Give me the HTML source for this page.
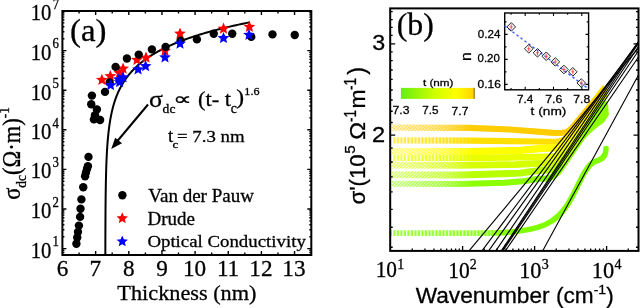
<!DOCTYPE html>
<html><head><meta charset="utf-8"><style>html,body{margin:0;padding:0;background:#fff;width:640px;height:308px;overflow:hidden}svg{display:block;will-change:transform}</style></head>
<body><svg width="640" height="308" viewBox="0 0 640 308"><path d="M79.08,255.0v-2.5 M79.08,11.0v2.5 M95.65,255.0v-4 M95.65,11.0v4 M112.22,255.0v-2.5 M112.22,11.0v2.5 M128.80,255.0v-4 M128.80,11.0v4 M145.38,255.0v-2.5 M145.38,11.0v2.5 M161.95,255.0v-4 M161.95,11.0v4 M178.52,255.0v-2.5 M178.52,11.0v2.5 M195.10,255.0v-4 M195.10,11.0v4 M211.67,255.0v-2.5 M211.67,11.0v2.5 M228.25,255.0v-4 M228.25,11.0v4 M244.82,255.0v-2.5 M244.82,11.0v2.5 M261.40,255.0v-4 M261.40,11.0v4 M277.98,255.0v-2.5 M277.98,11.0v2.5 M294.55,255.0v-4 M294.55,11.0v4 M62.4,252.44h2 M311.3,252.44h-2 M62.4,250.41h2 M311.3,250.41h-2 M62.4,248.60h4 M311.3,248.60h-4 M62.4,236.68h2 M311.3,236.68h-2 M62.4,229.71h2 M311.3,229.71h-2 M62.4,224.76h2 M311.3,224.76h-2 M62.4,220.92h2 M311.3,220.92h-2 M62.4,217.79h2 M311.3,217.79h-2 M62.4,215.13h2 M311.3,215.13h-2 M62.4,212.84h2 M311.3,212.84h-2 M62.4,210.81h2 M311.3,210.81h-2 M62.4,209.00h4 M311.3,209.00h-4 M62.4,197.08h2 M311.3,197.08h-2 M62.4,190.11h2 M311.3,190.11h-2 M62.4,185.16h2 M311.3,185.16h-2 M62.4,181.32h2 M311.3,181.32h-2 M62.4,178.19h2 M311.3,178.19h-2 M62.4,175.53h2 M311.3,175.53h-2 M62.4,173.24h2 M311.3,173.24h-2 M62.4,171.21h2 M311.3,171.21h-2 M62.4,169.40h4 M311.3,169.40h-4 M62.4,157.48h2 M311.3,157.48h-2 M62.4,150.51h2 M311.3,150.51h-2 M62.4,145.56h2 M311.3,145.56h-2 M62.4,141.72h2 M311.3,141.72h-2 M62.4,138.59h2 M311.3,138.59h-2 M62.4,135.93h2 M311.3,135.93h-2 M62.4,133.64h2 M311.3,133.64h-2 M62.4,131.61h2 M311.3,131.61h-2 M62.4,129.80h4 M311.3,129.80h-4 M62.4,117.88h2 M311.3,117.88h-2 M62.4,110.91h2 M311.3,110.91h-2 M62.4,105.96h2 M311.3,105.96h-2 M62.4,102.12h2 M311.3,102.12h-2 M62.4,98.99h2 M311.3,98.99h-2 M62.4,96.33h2 M311.3,96.33h-2 M62.4,94.04h2 M311.3,94.04h-2 M62.4,92.01h2 M311.3,92.01h-2 M62.4,90.20h4 M311.3,90.20h-4 M62.4,78.28h2 M311.3,78.28h-2 M62.4,71.31h2 M311.3,71.31h-2 M62.4,66.36h2 M311.3,66.36h-2 M62.4,62.52h2 M311.3,62.52h-2 M62.4,59.39h2 M311.3,59.39h-2 M62.4,56.73h2 M311.3,56.73h-2 M62.4,54.44h2 M311.3,54.44h-2 M62.4,52.41h2 M311.3,52.41h-2 M62.4,50.60h4 M311.3,50.60h-4 M62.4,38.68h2 M311.3,38.68h-2 M62.4,31.71h2 M311.3,31.71h-2 M62.4,26.76h2 M311.3,26.76h-2 M62.4,22.92h2 M311.3,22.92h-2 M62.4,19.79h2 M311.3,19.79h-2 M62.4,17.13h2 M311.3,17.13h-2 M62.4,14.84h2 M311.3,14.84h-2 M62.4,12.81h2 M311.3,12.81h-2" stroke="#000" stroke-width="1.4" fill="none"/>
<rect x="62.4" y="11.0" width="248.9" height="244.0" fill="none" stroke="#000" stroke-width="2"/>
<polyline points="249.81,22.30 246.93,22.88 244.10,23.47 241.33,24.05 238.62,24.63 235.96,25.22 233.35,25.80 230.79,26.38 228.29,26.97 225.83,27.55 223.43,28.13 221.07,28.72 218.76,29.30 216.49,29.88 214.27,30.46 212.10,31.05 209.97,31.63 207.88,32.21 205.83,32.80 203.82,33.38 201.86,33.96 199.93,34.55 198.04,35.13 196.19,35.71 194.37,36.30 192.60,36.88 190.85,37.46 189.14,38.05 187.47,38.63 185.83,39.21 184.22,39.80 182.65,40.38 181.10,40.96 179.59,41.55 178.11,42.13 176.65,42.71 175.23,43.30 173.83,43.88 172.47,44.46 171.13,45.05 169.81,45.63 168.52,46.21 167.26,46.79 166.02,47.38 164.81,47.96 163.62,48.54 162.46,49.13 161.32,49.71 160.20,50.29 159.11,50.88 158.03,51.46 156.98,52.04 155.95,52.63 154.94,53.21 153.95,53.79 152.97,54.38 152.02,54.96 151.09,55.54 150.18,56.13 149.28,56.71 148.40,57.29 147.54,57.88 146.70,58.46 145.87,59.04 145.06,59.63 144.27,60.21 143.49,60.79 142.73,61.37 141.98,61.96 141.25,62.54 140.53,63.12 139.83,63.71 139.14,64.29 138.46,64.87 137.80,65.46 137.15,66.04 136.52,66.62 135.89,67.21 135.28,67.79 134.68,68.37 134.10,68.96 133.52,69.54 132.96,70.12 132.41,70.71 131.87,71.29 131.34,71.87 130.82,72.46 130.31,73.04 129.81,73.62 129.32,74.21 128.84,74.79 128.37,75.37 127.91,75.96 127.46,76.54 127.02,77.12 126.58,77.70 126.16,78.29 125.74,78.87 125.33,79.45 124.93,80.04 124.54,80.62 124.16,81.20 123.78,81.79 123.41,82.37 123.05,82.95 122.70,83.54 122.35,84.12 122.01,84.70 121.67,85.29 121.35,85.87 121.03,86.45 120.71,87.04 120.41,87.62 120.10,88.20 119.81,88.79 119.52,89.37 119.24,89.95 118.96,90.54 118.68,91.12 118.42,91.70 118.16,92.28 117.90,92.87 117.65,93.45 117.40,94.03 117.16,94.62 116.92,95.20 116.69,95.78 116.46,96.37 116.24,96.95 116.02,97.53 115.81,98.12 115.60,98.70 115.39,99.28 115.19,99.87 114.99,100.45 114.80,101.03 114.61,101.62 114.42,102.20 114.24,102.78 114.06,103.37 113.89,103.95 113.72,104.53 113.55,105.12 113.38,105.70 113.22,106.28 113.07,106.87 112.91,107.45 112.76,108.03 112.61,108.61 112.46,109.20 112.32,109.78 112.18,110.36 112.04,110.95 111.91,111.53 111.78,112.11 111.65,112.70 111.52,113.28 111.40,113.86 111.27,114.45 111.16,115.03 111.04,115.61 110.92,116.20 110.81,116.78 110.70,117.36 110.59,117.95 110.49,118.53 110.38,119.11 110.28,119.70 110.18,120.28 110.09,120.86 109.99,121.45 109.90,122.03 109.81,122.61 109.72,123.19 109.63,123.78 109.54,124.36 109.46,124.94 109.37,125.53 109.29,126.11 109.21,126.69 109.13,127.28 109.06,127.86 108.98,128.44 108.91,129.03 108.84,129.61 108.77,130.19 108.70,130.78 108.63,131.36 108.56,131.94 108.50,132.53 108.43,133.11 108.37,133.69 108.31,134.28 108.25,134.86 108.19,135.44 108.13,136.03 108.08,136.61 108.02,137.19 107.97,137.78 107.91,138.36 107.86,138.94 107.81,139.52 107.76,140.11 107.71,140.69 107.66,141.27 107.62,141.86 107.57,142.44 107.52,143.02 107.48,143.61 107.44,144.19 107.39,144.77 107.35,145.36 107.31,145.94 107.27,146.52 107.23,147.11 107.19,147.69 107.16,148.27 107.12,148.86 107.08,149.44 107.05,150.02 107.01,150.61 106.98,151.19 106.94,151.77 106.91,152.36 106.88,152.94 106.85,153.52 106.82,154.11 106.79,154.69 106.76,155.27 106.73,155.85 106.70,156.44 106.67,157.02 106.64,157.60 106.62,158.19 106.59,158.77 106.56,159.35 106.54,159.94 106.51,160.52 106.49,161.10 106.47,161.69 106.44,162.27 106.42,162.85 106.40,163.44 106.38,164.02 106.35,164.60 106.33,165.19 106.31,165.77 106.29,166.35 106.27,166.94 106.25,167.52 106.23,168.10 106.22,168.69 106.20,169.27 106.18,169.85 106.16,170.43 106.15,171.02 106.13,171.60 106.11,172.18 106.10,172.77 106.08,173.35 106.06,173.93 106.05,174.52 106.03,175.10 106.02,175.68 106.00,176.27 105.99,176.85 105.98,177.43 105.96,178.02 105.95,178.60 105.94,179.18 105.92,179.77 105.91,180.35 105.90,180.93 105.89,181.52 105.88,182.10 105.86,182.68 105.85,183.27 105.84,183.85 105.83,184.43 105.82,185.02 105.81,185.60 105.80,186.18 105.79,186.76 105.78,187.35 105.77,187.93 105.76,188.51 105.75,189.10 105.74,189.68 105.73,190.26 105.73,190.85 105.72,191.43 105.71,192.01 105.70,192.60 105.69,193.18 105.68,193.76 105.68,194.35 105.67,194.93 105.66,195.51 105.66,196.10 105.65,196.68 105.64,197.26 105.63,197.85 105.63,198.43 105.62,199.01 105.61,199.60 105.61,200.18 105.60,200.76 105.60,201.34 105.59,201.93 105.58,202.51 105.58,203.09 105.57,203.68 105.57,204.26 105.56,204.84 105.56,205.43 105.55,206.01 105.55,206.59 105.54,207.18 105.54,207.76 105.53,208.34 105.53,208.93 105.52,209.51 105.52,210.09 105.51,210.68 105.51,211.26 105.51,211.84 105.50,212.43 105.50,213.01 105.49,213.59 105.49,214.18 105.49,214.76 105.48,215.34 105.48,215.93 105.48,216.51 105.47,217.09 105.47,217.67 105.47,218.26 105.46,218.84 105.46,219.42 105.46,220.01 105.45,220.59 105.45,221.17 105.45,221.76 105.44,222.34 105.44,222.92 105.44,223.51 105.43,224.09 105.43,224.67 105.43,225.26 105.43,225.84 105.42,226.42 105.42,227.01 105.42,227.59 105.42,228.17 105.41,228.76 105.41,229.34 105.41,229.92 105.41,230.51 105.41,231.09 105.40,231.67 105.40,232.25 105.40,232.84 105.40,233.42 105.40,234.00 105.39,234.59 105.39,235.17 105.39,235.75 105.39,236.34 105.39,236.92 105.38,237.50 105.38,238.09 105.38,238.67 105.38,239.25 105.38,239.84 105.38,240.42 105.38,241.00 105.37,241.59 105.37,242.17 105.37,242.75 105.37,243.34 105.37,243.92 105.37,244.50 105.37,245.09 105.36,245.67 105.36,246.25 105.36,246.84 105.36,247.42 105.36,248.00 105.36,248.58 105.36,249.17 105.36,249.75 105.35,250.33 105.35,250.92 105.35,251.50 105.35,252.08 105.35,252.67 105.35,253.25 105.35,253.83 105.35,254.42 105.35,255.00" fill="none" stroke="#000" stroke-width="2"/>
<line x1="148" y1="104.5" x2="117" y2="141.5" stroke="#000" stroke-width="2"/>
<polygon points="111.2,149 115.2,137.8 122,143.2" fill="#000"/>
<polygon points="101.90,73.80 103.54,77.74 107.80,78.08 104.55,80.86 105.54,85.02 101.90,82.79 98.26,85.02 99.25,80.86 96.00,78.08 100.26,77.74" fill="#ff0000"/><polygon points="110.30,70.05 111.94,73.99 116.20,74.33 112.95,77.11 113.94,81.27 110.30,79.04 106.66,81.27 107.65,77.11 104.40,74.33 108.66,73.99" fill="#ff0000"/><polygon points="119.40,66.90 121.04,70.84 125.30,71.18 122.05,73.96 123.04,78.12 119.40,75.89 115.76,78.12 116.75,73.96 113.50,71.18 117.76,70.84" fill="#ff0000"/><polygon points="123.10,62.55 124.74,66.49 129.00,66.83 125.75,69.61 126.74,73.77 123.10,71.54 119.46,73.77 120.45,69.61 117.20,66.83 121.46,66.49" fill="#ff0000"/><polygon points="136.90,53.80 138.54,57.74 142.80,58.08 139.55,60.86 140.54,65.02 136.90,62.79 133.26,65.02 134.25,60.86 131.00,58.08 135.26,57.74" fill="#ff0000"/><polygon points="146.00,51.60 147.64,55.54 151.90,55.88 148.65,58.66 149.64,62.82 146.00,60.59 142.36,62.82 143.35,58.66 140.10,55.88 144.36,55.54" fill="#ff0000"/><polygon points="165.00,44.80 166.64,48.74 170.90,49.08 167.65,51.86 168.64,56.02 165.00,53.79 161.36,56.02 162.35,51.86 159.10,49.08 163.36,48.74" fill="#ff0000"/><polygon points="180.00,27.55 181.64,31.49 185.90,31.83 182.65,34.61 183.64,38.77 180.00,36.54 176.36,38.77 177.35,34.61 174.10,31.83 178.36,31.49" fill="#ff0000"/><polygon points="223.50,22.55 225.14,26.49 229.40,26.83 226.15,29.61 227.14,33.77 223.50,31.54 219.86,33.77 220.85,29.61 217.60,26.83 221.86,26.49" fill="#ff0000"/><polygon points="249.40,20.70 251.04,24.64 255.30,24.98 252.05,27.76 253.04,31.92 249.40,29.69 245.76,31.92 246.75,27.76 243.50,24.98 247.76,24.64" fill="#ff0000"/><circle cx="76.4" cy="243.75" r="4.2" fill="#000"/><circle cx="77.25" cy="237.5" r="4.2" fill="#000"/><circle cx="78" cy="231.9" r="4.2" fill="#000"/><circle cx="78.9" cy="225.6" r="4.2" fill="#000"/><circle cx="80.1" cy="216.9" r="4.2" fill="#000"/><circle cx="80.5" cy="208.75" r="4.2" fill="#000"/><circle cx="81.4" cy="199.4" r="4.2" fill="#000"/><circle cx="83.25" cy="187.25" r="4.2" fill="#000"/><circle cx="85.1" cy="176.25" r="4.2" fill="#000"/><circle cx="86.0" cy="172.5" r="4.2" fill="#000"/><circle cx="87.0" cy="169.0" r="4.2" fill="#000"/><circle cx="87.9" cy="166.25" r="4.2" fill="#000"/><circle cx="88.5" cy="156.9" r="4.2" fill="#000"/><circle cx="93.9" cy="119.4" r="4.2" fill="#000"/><circle cx="100.1" cy="120" r="4.2" fill="#000"/><circle cx="95" cy="115.2" r="4.2" fill="#000"/><circle cx="96.9" cy="109.4" r="4.2" fill="#000"/><circle cx="91.25" cy="104.2" r="4.2" fill="#000"/><circle cx="91.9" cy="95.6" r="4.2" fill="#000"/><circle cx="105" cy="91.9" r="4.2" fill="#000"/><circle cx="109.6" cy="82.5" r="4.2" fill="#000"/><circle cx="115.6" cy="66.9" r="4.2" fill="#000"/><circle cx="126.9" cy="58.5" r="4.2" fill="#000"/><circle cx="138.75" cy="54.6" r="4.2" fill="#000"/><circle cx="151.9" cy="49.4" r="4.2" fill="#000"/><circle cx="165.6" cy="46.9" r="4.2" fill="#000"/><circle cx="180.6" cy="40.6" r="4.2" fill="#000"/><circle cx="196.9" cy="39.4" r="4.2" fill="#000"/><circle cx="213.75" cy="33.75" r="4.2" fill="#000"/><circle cx="232.25" cy="33.75" r="4.2" fill="#000"/><circle cx="251.25" cy="36.9" r="4.2" fill="#000"/><circle cx="272.5" cy="34.4" r="4.2" fill="#000"/><circle cx="294.75" cy="35" r="4.2" fill="#000"/><polygon points="110.60,79.10 112.24,83.04 116.50,83.38 113.25,86.16 114.24,90.32 110.60,88.09 106.96,90.32 107.95,86.16 104.70,83.38 108.96,83.04" fill="#0000ff"/><polygon points="118.75,73.20 120.39,77.14 124.65,77.48 121.40,80.26 122.39,84.42 118.75,82.19 115.11,84.42 116.10,80.26 112.85,77.48 117.11,77.14" fill="#0000ff"/><polygon points="119.60,76.00 121.24,79.94 125.50,80.28 122.25,83.06 123.24,87.22 119.60,84.99 115.96,87.22 116.95,83.06 113.70,80.28 117.96,79.94" fill="#0000ff"/><polygon points="123.10,71.30 124.74,75.24 129.00,75.58 125.75,78.36 126.74,82.52 123.10,80.29 119.46,82.52 120.45,78.36 117.20,75.58 121.46,75.24" fill="#0000ff"/><polygon points="138.10,63.20 139.74,67.14 144.00,67.48 140.75,70.26 141.74,74.42 138.10,72.19 134.46,74.42 135.45,70.26 132.20,67.48 136.46,67.14" fill="#0000ff"/><polygon points="145.60,60.05 147.24,63.99 151.50,64.33 148.25,67.11 149.24,71.27 145.60,69.04 141.96,71.27 142.95,67.11 139.70,64.33 143.96,63.99" fill="#0000ff"/><polygon points="165.00,51.30 166.64,55.24 170.90,55.58 167.65,58.36 168.64,62.52 165.00,60.29 161.36,62.52 162.35,58.36 159.10,55.58 163.36,55.24" fill="#0000ff"/><polygon points="180.00,37.55 181.64,41.49 185.90,41.83 182.65,44.61 183.64,48.77 180.00,46.54 176.36,48.77 177.35,44.61 174.10,41.83 178.36,41.49" fill="#0000ff"/><polygon points="223.50,31.90 225.14,35.84 229.40,36.18 226.15,38.96 227.14,43.12 223.50,40.89 219.86,43.12 220.85,38.96 217.60,36.18 221.86,35.84" fill="#0000ff"/><polygon points="249.00,28.80 250.64,32.74 254.90,33.08 251.65,35.86 252.64,40.02 249.00,37.79 245.36,40.02 246.35,35.86 243.10,33.08 247.36,32.74" fill="#0000ff"/>
<circle cx="122.4" cy="195.3" r="4.2" fill="#000"/>
<polygon points="122.25,212.30 123.84,216.12 127.96,216.45 124.82,219.13 125.78,223.15 122.25,221.00 118.72,223.15 119.68,219.13 116.54,216.45 120.66,216.12" fill="#ff0000"/>
<polygon points="122.25,235.50 123.84,239.32 127.96,239.65 124.82,242.33 125.78,246.35 122.25,244.20 118.72,246.35 119.68,242.33 116.54,239.65 120.66,239.32" fill="#0000ff"/>
<path d="M392.00,127.60 L470.00,127.90 L510.00,129.50 L550.00,132.60 L556.00,133.00 L560.75,133.00 Q567.75,133.00 572.23,127.63 L605.30,88.03" fill="none" stroke="#ffcc00" stroke-width="6.2" stroke-linejoin="round"/>
<path d="M392.00,140.30 L470.00,140.60 L540.00,141.50 L553.00,141.80 L555.85,141.80 Q563.85,141.80 568.66,135.40 L605.00,87.01" fill="none" stroke="#ffe000" stroke-width="6.2" stroke-linejoin="round"/>
<path d="M392.00,151.60 L470.00,151.60 L520.00,150.40 L542.00,148.40 L550.00,148.00 L554.27,148.00 Q562.27,148.00 566.92,141.50 L605.00,88.32" fill="none" stroke="#ffff00" stroke-width="7.4" stroke-linejoin="round"/>
<path d="M392.00,158.10 L470.00,158.00 L520.00,157.30 L546.00,156.60 L550.16,156.60 Q560.16,156.60 565.80,148.34 L605.00,90.94" fill="none" stroke="#eaff00" stroke-width="6.4" stroke-linejoin="round"/>
<path d="M392.00,165.30 L460.00,165.40 L515.00,164.60 L532.00,163.60 L546.00,163.20 L549.20,163.20 Q559.20,163.20 564.71,154.86 L605.00,93.91" fill="none" stroke="#d6ff00" stroke-width="6.6" stroke-linejoin="round"/>
<path d="M392.00,174.80 L460.00,175.00 L520.00,173.20 L538.00,170.60 L548.00,170.00 L549.38,170.00 Q557.38,170.00 561.87,163.38 L604.70,100.21" fill="none" stroke="#b8ff00" stroke-width="6.8" stroke-linejoin="round"/>
<path d="M392.00,183.80 L460.00,183.90 L505.00,182.80 L525.00,181.00 L538.00,178.80 L543.66,178.80 Q553.66,178.80 559.33,170.56 L603.80,105.82" fill="none" stroke="#8cff00" stroke-width="6.0" stroke-linejoin="round"/>
<path d="M557.78,172.80 L603.80,105.82" fill="none" stroke="#8cff00" stroke-width="6.0"/>
<path d="M561.45,164.00 L604.70,100.21" fill="none" stroke="#b8ff00" stroke-width="5.6"/>
<path d="M563.17,157.20 L605.00,93.91" fill="none" stroke="#d6ff00" stroke-width="5.2"/>
<path d="M564.25,150.60 L605.00,90.94" fill="none" stroke="#eaff00" stroke-width="5.2"/>
<path d="M566.56,142.00 L605.00,88.32" fill="none" stroke="#ffff00" stroke-width="5.2"/>
<path d="M568.36,135.80 L605.00,87.01" fill="none" stroke="#ffe000" stroke-width="5.0"/>
<path d="M572.76,127.00 L605.30,88.03" fill="none" stroke="#ffcc00" stroke-width="4.6"/>
<path d="M577,146.75 L590,133.6 L597.6,127 L604.2,122.3 L608.9,114.8 L608,103.5 L603,99 L596,110 L588,124 Z" fill="#8cff00"/>
<path d="M392,233.1 L488,233.1 C515,232.8 533,230 545,224.8 C556,219.8 563,212 568,204 C574,194 578,185 582,177 C588,166 592,161.5 598,160.5 C604,158.5 606,154 606,148.5" fill="none" stroke="#80ff00" stroke-width="5.6" stroke-linecap="round"/>
<defs><linearGradient id="hz" x1="391" x2="470" y1="0" y2="0" gradientUnits="userSpaceOnUse"><stop offset="0" stop-color="#fff" stop-opacity="0.6"/><stop offset="0.7" stop-color="#fff" stop-opacity="0.25"/><stop offset="1" stop-color="#fff" stop-opacity="0"/></linearGradient><linearGradient id="hz2" x1="391" x2="505" y1="0" y2="0" gradientUnits="userSpaceOnUse"><stop offset="0" stop-color="#fff" stop-opacity="0.5"/><stop offset="0.8" stop-color="#fff" stop-opacity="0.3"/><stop offset="1" stop-color="#fff" stop-opacity="0"/></linearGradient></defs>
<defs><pattern id="hp" width="3.2" height="3.2" patternUnits="userSpaceOnUse"><path d="M-0.8,0.8 L0.8,-0.8 M0,3.2 L3.2,0 M2.4,4 L4,2.4" stroke="#fff" stroke-width="1"/></pattern><pattern id="hv" width="3.5" height="8" patternUnits="userSpaceOnUse"><rect x="0" y="0" width="1.3" height="8" fill="#fff"/></pattern><linearGradient id="mg" gradientUnits="userSpaceOnUse" x1="391" y1="0" x2="475" y2="0"><stop offset="0" stop-color="#fff"/><stop offset="0.6" stop-color="#999"/><stop offset="1" stop-color="#000"/></linearGradient><linearGradient id="mg2" gradientUnits="userSpaceOnUse" x1="391" y1="0" x2="510" y2="0"><stop offset="0" stop-color="#fff"/><stop offset="0.7" stop-color="#aaa"/><stop offset="1" stop-color="#000"/></linearGradient><mask id="mk"><rect x="391" y="100" width="130" height="150" fill="url(#mg)"/></mask><mask id="mk2"><rect x="391" y="100" width="130" height="150" fill="url(#mg2)"/></mask></defs>
<rect x="391" y="122" width="80" height="70" fill="url(#hz)" opacity="0.55"/>
<g mask="url(#mk)"><rect x="391" y="122" width="84" height="12" fill="url(#hp)"/><rect x="391" y="134" width="84" height="12" fill="url(#hv)"/><rect x="391" y="146" width="84" height="9" fill="url(#hp)"/><rect x="391" y="155" width="84" height="6" fill="url(#hv)"/><rect x="391" y="161" width="84" height="31" fill="url(#hp)"/></g>
<rect x="391" y="229" width="115" height="9" fill="url(#hz2)" opacity="0.5"/>
<g mask="url(#mk2)"><rect x="391" y="229" width="119" height="9" fill="url(#hv)"/></g>
<line x1="469.00" y1="250.9" x2="638.5" y2="47.91" stroke="#000" stroke-width="1.1"/><line x1="481.92" y1="250.9" x2="638.5" y2="42.40" stroke="#000" stroke-width="1.1"/><line x1="488.59" y1="250.9" x2="638.5" y2="41.53" stroke="#000" stroke-width="1.1"/><line x1="495.75" y1="250.9" x2="638.5" y2="41.90" stroke="#000" stroke-width="1.1"/><line x1="501.23" y1="250.9" x2="638.5" y2="43.23" stroke="#000" stroke-width="1.1"/><line x1="502.00" y1="250.9" x2="638.5" y2="46.56" stroke="#000" stroke-width="1.1"/><line x1="502.83" y1="250.9" x2="638.5" y2="50.80" stroke="#000" stroke-width="1.1"/><line x1="505.33" y1="250.9" x2="638.5" y2="57.06" stroke="#000" stroke-width="1.1"/><line x1="542.60" y1="250.9" x2="638.5" y2="74.94" stroke="#000" stroke-width="1.1"/>
<path d="M412.27,250.9v-2.5 M424.95,250.9v-2.5 M433.95,250.9v-2.5 M440.93,250.9v-2.5 M446.63,250.9v-2.5 M451.45,250.9v-2.5 M455.62,250.9v-2.5 M459.31,250.9v-2.5 M462.60,250.9v-5 M484.27,250.9v-2.5 M496.95,250.9v-2.5 M505.95,250.9v-2.5 M512.93,250.9v-2.5 M518.63,250.9v-2.5 M523.45,250.9v-2.5 M527.62,250.9v-2.5 M531.31,250.9v-2.5 M534.60,250.9v-5 M556.27,250.9v-2.5 M568.95,250.9v-2.5 M577.95,250.9v-2.5 M584.93,250.9v-2.5 M590.63,250.9v-2.5 M595.45,250.9v-2.5 M599.62,250.9v-2.5 M603.31,250.9v-2.5 M606.60,250.9v-5 M628.27,250.9v-2.5 M390.2,11.70h2.5 M638.5,11.70h-2.5 M390.2,19.60h2.5 M638.5,19.60h-2.5 M390.2,27.40h2.5 M638.5,27.40h-2.5 M390.2,35.30h2.5 M638.5,35.30h-2.5 M390.2,43.80h5 M638.5,43.80h-5 M390.2,51.90h2.5 M638.5,51.90h-2.5 M390.2,60.60h2.5 M638.5,60.60h-2.5 M390.2,70.00h2.5 M638.5,70.00h-2.5 M390.2,79.40h2.5 M638.5,79.40h-2.5 M390.2,90.00h2.5 M638.5,90.00h-2.5 M390.2,100.00h2.5 M638.5,100.00h-2.5 M390.2,111.25h2.5 M638.5,111.25h-2.5 M390.2,122.50h2.5 M638.5,122.50h-2.5 M390.2,135.10h5 M638.5,135.10h-5 M390.2,148.10h2.5 M638.5,148.10h-2.5 M390.2,162.00h2.5 M638.5,162.00h-2.5 M390.2,176.90h2.5 M638.5,176.90h-2.5 M390.2,191.90h2.5 M638.5,191.90h-2.5 M390.2,209.40h2.5 M638.5,209.40h-2.5 M390.2,227.25h2.5 M638.5,227.25h-2.5 M390.2,247.25h2.5 M638.5,247.25h-2.5" stroke="#000" stroke-width="1.3" fill="none"/>
<rect x="390.2" y="8.4" width="248.3" height="242.5" fill="none" stroke="#000" stroke-width="2"/>
<defs><linearGradient id="cb" x1="0" x2="1" y1="0" y2="0"><stop offset="0" stop-color="#66ee11"/><stop offset="0.45" stop-color="#ccff00"/><stop offset="0.75" stop-color="#ffff00"/><stop offset="1" stop-color="#ffd000"/></linearGradient></defs>
<rect x="400.9" y="87.9" width="73.6" height="11" fill="url(#cb)"/>
<line x1="474.2" y1="87.9" x2="474.2" y2="98.9" stroke="#664400" stroke-width="0.8"/>
<path d="M511.05,89.8v-1.8 M511.05,13.0v1.8 M525.20,89.8v-3 M525.20,13.0v3 M539.35,89.8v-1.8 M539.35,13.0v1.8 M553.50,89.8v-3 M553.50,13.0v3 M567.65,89.8v-1.8 M567.65,13.0v1.8 M581.80,89.8v-3 M581.80,13.0v3 M504.7,84.40h3 M588.6,84.40h-3 M504.7,71.90h1.8 M588.6,71.90h-1.8 M504.7,59.40h3 M588.6,59.40h-3 M504.7,46.90h1.8 M588.6,46.90h-1.8 M504.7,34.40h3 M588.6,34.40h-3 M504.7,21.90h1.8 M588.6,21.90h-1.8" stroke="#000" stroke-width="1.1" fill="none"/>
<rect x="504.7" y="13.0" width="83.90000000000003" height="76.8" fill="none" stroke="#000" stroke-width="1.4"/>
<line x1="504.5" y1="25.8" x2="588.6" y2="89" stroke="#3355ff" stroke-width="1.3" stroke-dasharray="2.5,2.5"/>
<polygon points="511.25,22.599999999999998 515.55,26.9 511.25,31.2 506.95,26.9" fill="none" stroke="#222" stroke-width="1"/><path d="M511.25,24.299999999999997v5.2M509.65,26.9h3.2" stroke="#ff4040" stroke-width="0.9"/><polygon points="528.75,44.45 533.05,48.75 528.75,53.05 524.45,48.75" fill="none" stroke="#222" stroke-width="1"/><path d="M528.75,46.15v5.2M527.15,48.75h3.2" stroke="#ff4040" stroke-width="0.9"/><polygon points="537.5,48.5 541.8,52.8 537.5,57.099999999999994 533.2,52.8" fill="none" stroke="#222" stroke-width="1"/><path d="M537.5,50.199999999999996v5.2M535.9,52.8h3.2" stroke="#ff4040" stroke-width="0.9"/><polygon points="546.25,51.95 550.55,56.25 546.25,60.55 541.95,56.25" fill="none" stroke="#222" stroke-width="1"/><path d="M546.25,53.65v5.2M544.65,56.25h3.2" stroke="#ff4040" stroke-width="0.9"/><polygon points="555.3,57.6 559.5999999999999,61.9 555.3,66.2 551.0,61.9" fill="none" stroke="#222" stroke-width="1"/><path d="M555.3,59.3v5.2M553.6999999999999,61.9h3.2" stroke="#ff4040" stroke-width="0.9"/><polygon points="563.9,65.2 568.1999999999999,69.5 563.9,73.8 559.6,69.5" fill="none" stroke="#222" stroke-width="1"/><path d="M563.9,66.9v5.2M562.3,69.5h3.2" stroke="#ff4040" stroke-width="0.9"/><polygon points="572.8,67.5 577.0999999999999,71.8 572.8,76.1 568.5,71.8" fill="none" stroke="#222" stroke-width="1"/><path d="M572.8,69.2v5.2M571.1999999999999,71.8h3.2" stroke="#ff4040" stroke-width="0.9"/><polygon points="581.25,78.7 585.55,83.0 581.25,87.3 576.95,83.0" fill="none" stroke="#222" stroke-width="1"/><path d="M581.25,80.4v5.2M579.65,83.0h3.2" stroke="#ff4040" stroke-width="0.9"/>
<g id="tx0" transform="translate(30.635,257.931) scale(0.20682,0.23347)"><text font-family='"Liberation Serif", serif' font-size="100" stroke="#000" stroke-width="1.36">10</text></g>
<g id="tx1" transform="translate(30.635,218.171) scale(0.20682,0.23347)"><text font-family='"Liberation Serif", serif' font-size="100" stroke="#000" stroke-width="1.36">10</text></g>
<g id="tx2" transform="translate(30.635,178.411) scale(0.20682,0.23347)"><text font-family='"Liberation Serif", serif' font-size="100" stroke="#000" stroke-width="1.36">10</text></g>
<g id="tx3" transform="translate(30.635,138.651) scale(0.20682,0.23347)"><text font-family='"Liberation Serif", serif' font-size="100" stroke="#000" stroke-width="1.36">10</text></g>
<g id="tx4" transform="translate(30.635,99.691) scale(0.20682,0.23347)"><text font-family='"Liberation Serif", serif' font-size="100" stroke="#000" stroke-width="1.36">10</text></g>
<g id="tx5" transform="translate(30.635,59.931) scale(0.20682,0.23347)"><text font-family='"Liberation Serif", serif' font-size="100" stroke="#000" stroke-width="1.36">10</text></g>
<g id="tx6" transform="translate(30.635,20.171) scale(0.20682,0.23347)"><text font-family='"Liberation Serif", serif' font-size="100" stroke="#000" stroke-width="1.36">10</text></g>
<g id="tx7" transform="translate(56.659,276.369) scale(0.23200,0.23000)"><text font-family='"Liberation Serif", serif' font-size="100" stroke="#000" stroke-width="1.30">6</text></g>
<g id="tx8" transform="translate(89.436,276.202) scale(0.23200,0.23000)"><text font-family='"Liberation Serif", serif' font-size="100" stroke="#000" stroke-width="1.30">7</text></g>
<g id="tx9" transform="translate(123.113,276.369) scale(0.23200,0.23000)"><text font-family='"Liberation Serif", serif' font-size="100" stroke="#000" stroke-width="1.30">8</text></g>
<g id="tx10" transform="translate(156.371,276.363) scale(0.23200,0.23000)"><text font-family='"Liberation Serif", serif' font-size="100" stroke="#000" stroke-width="1.30">9</text></g>
<g id="tx11" transform="translate(182.909,276.378) scale(0.23200,0.23000)"><text font-family='"Liberation Serif", serif' font-size="100" stroke="#000" stroke-width="1.30">10</text></g>
<g id="tx12" transform="translate(216.887,276.419) scale(0.23200,0.23000)"><text font-family='"Liberation Serif", serif' font-size="100" stroke="#000" stroke-width="1.30">11</text></g>
<g id="tx13" transform="translate(249.301,276.350) scale(0.23200,0.23000)"><text font-family='"Liberation Serif", serif' font-size="100" stroke="#000" stroke-width="1.30">12</text></g>
<g id="tx14" transform="translate(282.357,276.369) scale(0.23200,0.23000)"><text font-family='"Liberation Serif", serif' font-size="100" stroke="#000" stroke-width="1.30">13</text></g>
<g id="tx15" transform="translate(117.321,299.901) scale(0.22284,0.20153)"><text font-family='"Liberation Serif", serif' font-size="100" stroke="#000" stroke-width="1.41">Thickness (nm)</text></g>
<g id="tx16" transform="translate(20.054,199.801) rotate(-90) scale(0.22525,0.24615)"><text font-family='"Liberation Serif", serif' font-size="100" stroke="#000" stroke-width="1.27">σ<tspan font-size="60" dy="26">dc</tspan><tspan dy="-26">(Ω·m)</tspan><tspan font-size="58" dy="-44">-1</tspan></text></g>
<g id="tx17" transform="translate(70.059,40.726) scale(0.32892,0.32106)"><text font-family='"Liberation Serif", serif' font-size="100" stroke="#000" stroke-width="0.92">(a)</text></g>
<g id="tx18" transform="translate(148.894,106.746) scale(0.25773,0.22443)"><text font-family='"Liberation Serif", serif' font-size="100" stroke="#000" stroke-width="1.24">σ</text></g>
<g id="tx19" transform="translate(162.591,113.254) scale(0.13597,0.12453)"><text font-family='"Liberation Serif", serif' font-size="100" stroke="#000" stroke-width="2.30">dc</text></g>
<g id="tx20" transform="translate(173.214,105.234) scale(0.26315,0.17944)"><text font-family='"Liberation Serif", serif' font-size="100" stroke="#000" stroke-width="1.36">∝</text></g>
<g id="tx21" transform="translate(198.078,105.732) scale(0.22439,0.21691)"><text font-family='"Liberation Serif", serif' font-size="100" stroke="#000" stroke-width="1.36">(t- t</text></g>
<g id="tx22" transform="translate(230.695,113.201) scale(0.13747,0.14124)"><text font-family='"Liberation Serif", serif' font-size="100" stroke="#000" stroke-width="2.15">c</text></g>
<g id="tx23" transform="translate(236.252,104.327) scale(0.23495,0.21591)"><text font-family='"Liberation Serif", serif' font-size="100" stroke="#000" stroke-width="1.33">)</text></g>
<g id="tx24" transform="translate(244.345,94.682) scale(0.12096,0.10813)"><text font-family='"Liberation Serif", serif' font-size="100" stroke="#000" stroke-width="2.62">1.6</text></g>
<g id="tx25" transform="translate(167.999,142.063) scale(0.18879,0.19632)"><text font-family='"Liberation Serif", serif' font-size="100" stroke="#000" stroke-width="1.56">t</text></g>
<g id="tx26" transform="translate(172.410,148.322) scale(0.13123,0.10145)"><text font-family='"Liberation Serif", serif' font-size="100" stroke="#000" stroke-width="2.58">c</text></g>
<g id="tx27" transform="translate(176.926,142.461) scale(0.18854,0.17744)"><text font-family='"Liberation Serif", serif' font-size="100" stroke="#000" stroke-width="1.64">= 7.3 nm</text></g>
<g id="tx28" transform="translate(148.300,201.998) scale(0.19039,0.19010)"><text font-family='"Liberation Serif", serif' font-size="100" stroke="#000" stroke-width="1.58">Van der Pauw</text></g>
<g id="tx29" transform="translate(147.552,225.186) scale(0.18997,0.19281)"><text font-family='"Liberation Serif", serif' font-size="100" stroke="#000" stroke-width="1.57">Drude</text></g>
<g id="tx30" transform="translate(147.391,246.751) scale(0.18828,0.17176)"><text font-family='"Liberation Serif", serif' font-size="100" stroke="#000" stroke-width="1.67">Optical Conductivity</text></g>
<g id="tx31" transform="translate(372.247,50.242) scale(0.23294,0.21768)"><text font-family='"Liberation Sans", sans-serif' font-size="100" stroke="#000" stroke-width="1.33">3</text></g>
<g id="tx32" transform="translate(371.899,142.118) scale(0.23641,0.22568)"><text font-family='"Liberation Sans", sans-serif' font-size="100" stroke="#000" stroke-width="1.30">2</text></g>
<g id="tx33" transform="translate(375.656,277.392) scale(0.21326,0.23301)"><text font-family='"Liberation Serif", serif' font-size="100" stroke="#000" stroke-width="1.34">10</text></g>
<g id="tx34" transform="translate(448.170,277.689) scale(0.21522,0.22482)"><text font-family='"Liberation Serif", serif' font-size="100" stroke="#000" stroke-width="1.36">10</text></g>
<g id="tx35" transform="translate(519.225,277.689) scale(0.22258,0.22464)"><text font-family='"Liberation Serif", serif' font-size="100" stroke="#000" stroke-width="1.34">10</text></g>
<g id="tx36" transform="translate(591.844,277.690) scale(0.22405,0.22441)"><text font-family='"Liberation Serif", serif' font-size="100" stroke="#000" stroke-width="1.34">10</text></g>
<g id="tx37" transform="translate(415.674,302.984) scale(0.22680,0.21622)"><text font-family='"Liberation Sans", sans-serif' font-size="100" stroke="#000" stroke-width="1.35">Wavenumber (cm<tspan font-size="62" dy="-40">-1</tspan><tspan dy="40">)</tspan></text></g>
<g id="tx38" transform="translate(364.974,204.492) rotate(-90) scale(0.22294,0.22979)"><text font-family='"Liberation Sans", sans-serif' font-size="100" stroke="#000" stroke-width="1.33">σ'(10</text></g>
<g id="tx39" transform="translate(355.053,153.704) rotate(-90) scale(0.15106,0.14714)"><text font-family='"Liberation Sans", sans-serif' font-size="100" stroke="#000" stroke-width="2.01">5</text></g>
<g id="tx40" transform="translate(365.100,139.755) rotate(-90) scale(0.23881,0.22857)"><text font-family='"Liberation Sans", sans-serif' font-size="100" stroke="#000" stroke-width="1.28">Ω</text></g>
<g id="tx41" transform="translate(355.700,121.940) rotate(-90) scale(0.13500,0.17101)"><text font-family='"Liberation Sans", sans-serif' font-size="100" stroke="#000" stroke-width="1.96">-1</text></g>
<g id="tx42" transform="translate(364.900,108.400) rotate(-90) scale(0.22857,0.22222)"><text font-family='"Liberation Sans", sans-serif' font-size="100" stroke="#000" stroke-width="1.33">m</text></g>
<g id="tx43" transform="translate(356.000,89.945) rotate(-90) scale(0.13625,0.17174)"><text font-family='"Liberation Sans", sans-serif' font-size="100" stroke="#000" stroke-width="1.95">-1</text></g>
<g id="tx44" transform="translate(365.140,74.736) rotate(-90) scale(0.23617,0.23617)"><text font-family='"Liberation Sans", sans-serif' font-size="100" stroke="#000" stroke-width="1.27">)</text></g>
<g id="tx45" transform="translate(396.769,35.007) scale(0.31794,0.32446)"><text font-family='"Liberation Serif", serif' font-size="100" stroke="#000" stroke-width="0.93">(b)</text></g>
<g id="tx46" transform="translate(422.921,85.674) scale(0.11668,0.09708)"><text font-family='"Liberation Sans", sans-serif' font-size="100" stroke="#000" stroke-width="2.81">t (nm)</text></g>
<g id="tx47" transform="translate(392.556,114.492) scale(0.12211,0.11614)"><text font-family='"Liberation Sans", sans-serif' font-size="100" stroke="#000" stroke-width="2.52">7.3</text></g>
<g id="tx48" transform="translate(422.178,114.482) scale(0.11673,0.11601)"><text font-family='"Liberation Sans", sans-serif' font-size="100" stroke="#000" stroke-width="2.58">7.5</text></g>
<g id="tx49" transform="translate(451.619,114.598) scale(0.12140,0.10624)"><text font-family='"Liberation Sans", sans-serif' font-size="100" stroke="#000" stroke-width="2.64">7.7</text></g>
<g id="tx50" transform="translate(477.773,37.753) scale(0.11617,0.10551)"><text font-family='"Liberation Sans", sans-serif' font-size="100" stroke="#000" stroke-width="2.71">0.24</text></g>
<g id="tx51" transform="translate(477.530,62.241) scale(0.11452,0.11698)"><text font-family='"Liberation Sans", sans-serif' font-size="100" stroke="#000" stroke-width="2.59">0.20</text></g>
<g id="tx52" transform="translate(477.480,87.516) scale(0.12000,0.10216)"><text font-family='"Liberation Sans", sans-serif' font-size="100" stroke="#000" stroke-width="2.70">0.16</text></g>
<g id="tx53" transform="translate(517.092,102.858) scale(0.11738,0.10438)"><text font-family='"Liberation Sans", sans-serif' font-size="100" stroke="#000" stroke-width="2.71">7.4</text></g>
<g id="tx54" transform="translate(545.232,102.744) scale(0.12379,0.11418)"><text font-family='"Liberation Sans", sans-serif' font-size="100" stroke="#000" stroke-width="2.52">7.6</text></g>
<g id="tx55" transform="translate(573.276,102.744) scale(0.12148,0.11418)"><text font-family='"Liberation Sans", sans-serif' font-size="100" stroke="#000" stroke-width="2.55">7.8</text></g>
<g id="tx56" transform="translate(530.554,114.706) scale(0.13745,0.11582)"><text font-family='"Liberation Sans", sans-serif' font-size="100" stroke="#000" stroke-width="2.37">t (nm)</text></g>
<g id="tx57" transform="translate(471.200,60.900) rotate(-90) scale(0.15714,0.13889)"><text font-family='"Liberation Sans", sans-serif' font-size="100" stroke="#000" stroke-width="2.03">n</text></g>
<g transform="translate(52.400,246.400) scale(0.128,0.14)"><text font-family='"Liberation Serif", serif' font-size="100" stroke="#000" stroke-width="2.24">1</text></g>
<g transform="translate(52.400,206.800) scale(0.128,0.14)"><text font-family='"Liberation Serif", serif' font-size="100" stroke="#000" stroke-width="2.24">2</text></g>
<g transform="translate(52.400,167.200) scale(0.128,0.14)"><text font-family='"Liberation Serif", serif' font-size="100" stroke="#000" stroke-width="2.24">3</text></g>
<g transform="translate(52.400,127.600) scale(0.128,0.14)"><text font-family='"Liberation Serif", serif' font-size="100" stroke="#000" stroke-width="2.24">4</text></g>
<g transform="translate(52.400,88.000) scale(0.128,0.14)"><text font-family='"Liberation Serif", serif' font-size="100" stroke="#000" stroke-width="2.24">5</text></g>
<g transform="translate(52.400,48.400) scale(0.128,0.14)"><text font-family='"Liberation Serif", serif' font-size="100" stroke="#000" stroke-width="2.24">6</text></g>
<g transform="translate(52.700,8.800) scale(0.128,0.14)"><text font-family='"Liberation Serif", serif' font-size="100" stroke="#000" stroke-width="2.24">7</text></g>
<g transform="translate(397.250,268.600) scale(0.14,0.148)"><text font-family='"Liberation Serif", serif' font-size="100" stroke="#000" stroke-width="2.08">1</text></g>
<g transform="translate(469.800,268.600) scale(0.14,0.148)"><text font-family='"Liberation Serif", serif' font-size="100" stroke="#000" stroke-width="2.08">2</text></g>
<g transform="translate(541.700,268.600) scale(0.14,0.148)"><text font-family='"Liberation Serif", serif' font-size="100" stroke="#000" stroke-width="2.08">3</text></g>
<g transform="translate(614.500,268.600) scale(0.14,0.148)"><text font-family='"Liberation Serif", serif' font-size="100" stroke="#000" stroke-width="2.08">4</text></g></svg></body></html>
